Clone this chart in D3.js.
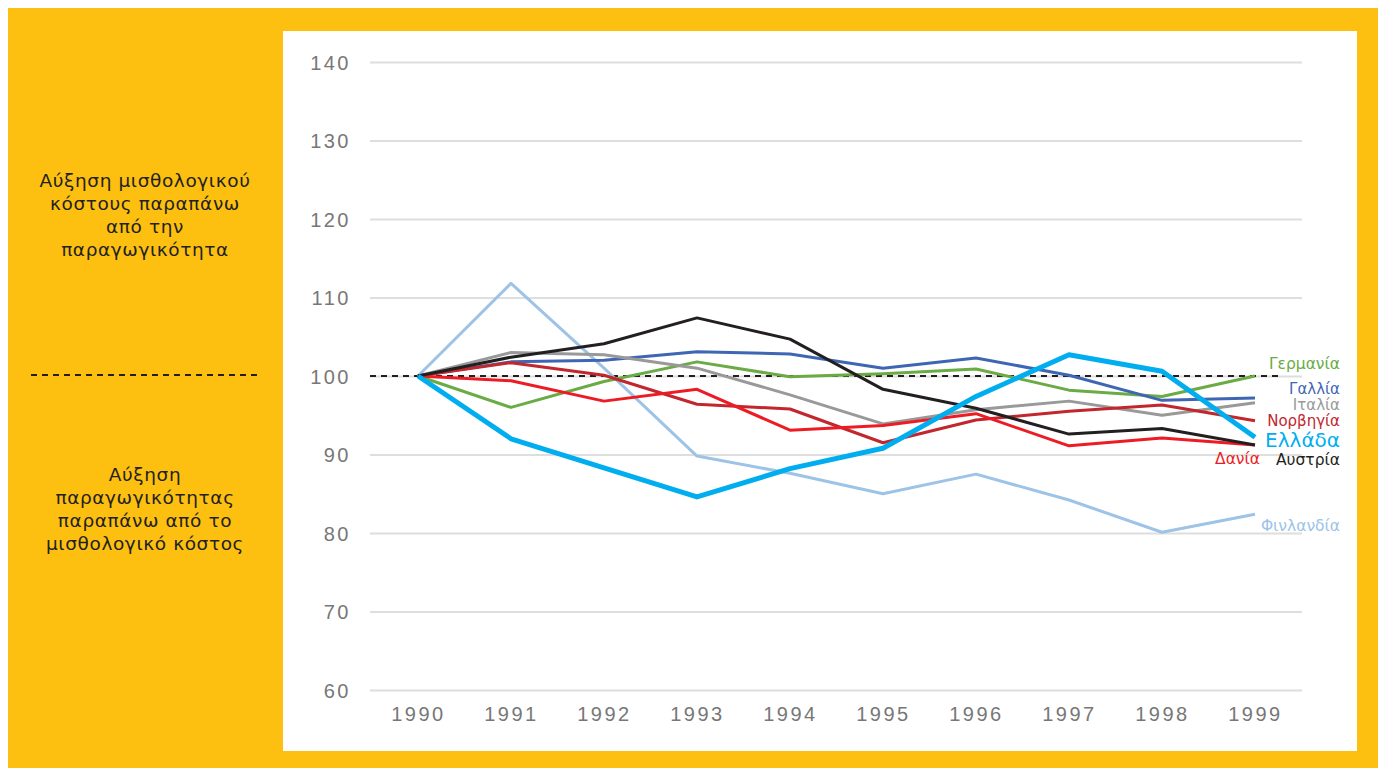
<!DOCTYPE html>
<html><head><meta charset="utf-8">
<script src="https://cdn.jsdelivr.net/npm/d3@7"></script>
<style>
html,body{margin:0;padding:0;background:#fff;}
svg{display:block;font-family:"DejaVu Sans","Noto Sans",sans-serif;}
</style></head>
<body>
<svg id="c" width="1383" height="768"></svg>
<script>
const years = [1990,1991,1992,1993,1994,1995,1996,1997,1998,1999];
const yTicks = [60,70,80,90,100,110,120,130,140];
const finland = [100,111.8,101.0,89.8,87.6,85.0,87.5,84.2,80.1,82.4];
const germany = [100,96.0,99.3,101.8,99.9,100.3,100.9,98.2,97.4,100.0];
const france  = [100,101.8,102.0,103.1,102.8,101.0,102.3,100.1,96.9,97.2];
const italy   = [100,103.0,102.7,101.0,97.6,93.9,95.7,96.8,95.0,96.6];
const norway  = [100,101.7,100.1,96.4,95.8,91.5,94.4,95.5,96.3,94.3];
const denmark = [100,99.4,96.8,98.3,93.1,93.7,95.2,91.1,92.1,91.2];
const austria = [100,102.4,104.1,107.4,104.7,98.3,95.9,92.6,93.3,91.2];
const greece  = [100,92.0,88.3,84.6,88.2,90.8,97.4,102.7,100.6,92.2];
const seriesNames = ["Φινλανδία","Γερμανία","Γαλλία","Ιταλία","Νορβηγία","Δανία","Αυστρία","Ελλάδα"];
const seriesValues = [finland,germany,france,italy,norway,denmark,austria,greece];
const seriesColors = ["#9dc3e6","#6aab45","#3f66b3","#999999","#c1272d","#ed1c24","#231f20","#00aeef"];
const upperText = ["Αύξηση μισθολογικού","κόστους παραπάνω","από την","παραγωγικότητα"];
const lowerText = ["Αύξηση","παραγωγικότητας","παραπάνω από το","μισθολογικό κόστος"];

const svg = d3.select("#c");
svg.append("rect").attr("x",8).attr("y",8).attr("width",1370).attr("height",760).attr("fill","#fdc010");
svg.append("rect").attr("x",283).attr("y",31).attr("width",1074).attr("height",720).attr("fill","#fff");

const x = d3.scalePoint().domain(years).range([418,1255]);
const y = d3.scaleLinear().domain([60,140]).range([690,62]);

// gridlines
const gy = svg.append("g").attr("transform","translate(370,0)")
  .call(d3.axisLeft(y).tickValues(yTicks).tickSize(-932).tickPadding(19).tickFormat(d3.format("d")));
gy.select(".domain").remove();
gy.selectAll(".tick line").attr("stroke","#dedede").attr("stroke-width",2);
gy.selectAll(".tick text").attr("fill","#777").style("font-size","20px").style("letter-spacing","2.5px").attr("dy","0.35em");

const gx = svg.append("g").attr("transform","translate(0,690)")
  .call(d3.axisBottom(x).tickSize(0).tickPadding(17).tickFormat(d3.format("d")));
gx.select(".domain").remove();
gx.selectAll(".tick text").attr("fill","#777").style("font-size","20px").style("letter-spacing","2.5px");

// dashed 100 line
svg.append("line").attr("x1",370).attr("x2",1280).attr("y1",y(100)).attr("y2",y(100))
  .attr("stroke","#231f20").attr("stroke-width",2).attr("stroke-dasharray","6,5");

const line = d3.line().x((d,i)=>x(years[i])).y(d=>y(d));
seriesValues.forEach((vals,k)=>{
  svg.append("path").datum(vals).attr("d",line).attr("fill","none")
    .attr("stroke",seriesColors[k]).attr("stroke-width",seriesNames[k]==="Ελλάδα"?5:3)
    .attr("stroke-linejoin","round");
});

// labels
const labels = [
  {n:"Γερμανία", x:1340, y:364, s:15.5},
  {n:"Γαλλία", x:1340, y:389, s:15},
  {n:"Ιταλία", x:1340, y:405, s:15},
  {n:"Νορβηγία", x:1340, y:421, s:15},
  {n:"Ελλάδα", x:1340, y:440, s:20},
  {n:"Δανία", x:1260, y:459, s:15.5},
  {n:"Αυστρία", x:1340, y:460, s:15.5},
  {n:"Φινλανδία", x:1340, y:526, s:15.5}
];
labels.forEach(l=>{
  const k = seriesNames.indexOf(l.n);
  svg.append("text").attr("x",l.x).attr("y",l.y).attr("dy","0.35em").attr("text-anchor","end")
    .attr("fill",seriesColors[k]).style("font-size",l.s+"px").text(l.n);
});

// left text
const addBlock=(lines,y0)=>{
  lines.forEach((t,i)=>{
    svg.append("text").attr("x",145).attr("y",y0+i*23).attr("dy","0.35em").attr("text-anchor","middle")
      .attr("fill","#231f20").style("font-size","18.5px").style("letter-spacing","0.6px").text(t);
  });
};
addBlock(upperText,181);
addBlock(lowerText,475);
svg.append("line").attr("x1",31).attr("x2",257).attr("y1",375).attr("y2",375)
  .attr("stroke","#231f20").attr("stroke-width",2).attr("stroke-dasharray","6,5");
</script>
</body></html>
